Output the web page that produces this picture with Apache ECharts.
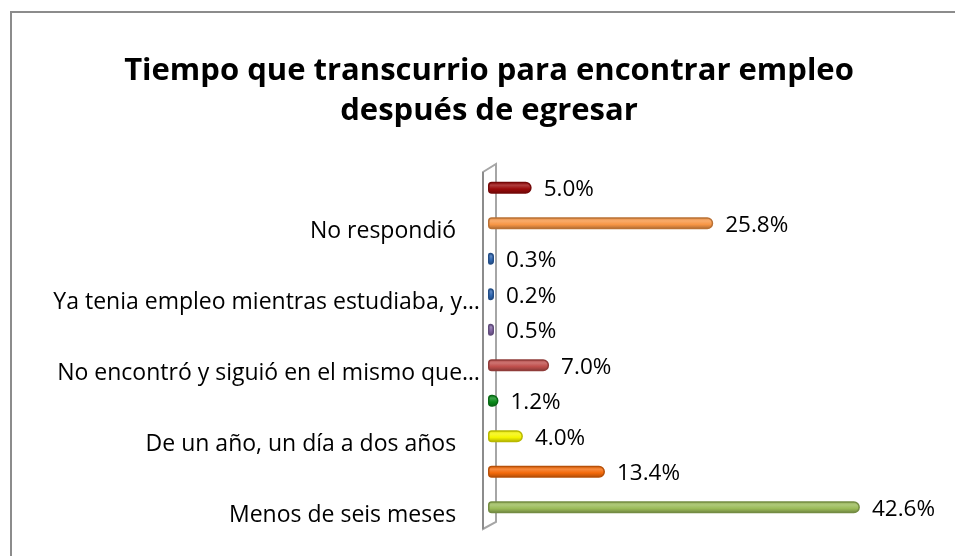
<!DOCTYPE html>
<html>
<head>
<meta charset="utf-8">
<script src="https://cdn.jsdelivr.net/npm/echarts@6/dist/echarts.min.js"></script>
<style>
  html, body { margin: 0; padding: 0; background: #fff; }
  #chart { width: 955px; height: 556px; }
</style>
</head>
<body>
<div id="chart"></div>
<script>
// categories, bottom to top (only every other one is labelled in the original)
var categories = [
  'Menos de seis meses    ',
  'De seis meses a un año    ',
  'De un año, un día a dos años    ',
  'Más de dos años    ',
  'No encontró y siguió en el mismo que…',
  'No encontró y sigue buscando    ',
  'Ya tenia empleo mientras estudiaba, y…',
  'Ya tenia empleo y cambió    ',
  'No respondió    ',
  'Otro    '
]
var values = [42.6, 13.4, 4.0, 1.2, 7.0, 0.5, 0.2, 0.3, 25.8, 5.0]
// base colour of each cylinder
var colors = ['#9bbb59', '#f46a0a', '#f5f500', '#0a8a1a', '#c0504d', '#8064a2', '#2f67b1', '#2f67b1', '#f79646', '#9a0a0a']

var gridLeft = 488, gridTop = 170, gridBottom = 31, axisMax = 45

function shade(hex, k) {
  var n = parseInt(hex.slice(1), 16)
  var r = (n >> 16) & 255, g = (n >> 8) & 255, b = n & 255
  function f(c) {
    c = k > 0 ? c + (255 - c) * k : c * (1 + k)
    return Math.round(c)
  }
  return 'rgb(' + f(r) + ',' + f(g) + ',' + f(b) + ')'
}

var chart = echarts.init(document.getElementById('chart'))

var option = {
  backgroundColor: '#fff',
  animation: false,
  title: {
    text: 'Tiempo que transcurrio para encontrar empleo\ndespués de egresar',
    left: 484,
    top: 46,
    textAlign: 'center',
    textStyle: {
      fontFamily: 'Open Sans',
      fontWeight: 'bold',
      fontSize: 31,
      lineHeight: 40,
      color: '#000'
    }
  },
  grid: {
    left: gridLeft,
    right: 955 - gridLeft - axisMax * 8.73,
    top: gridTop,
    bottom: gridBottom,
    containLabel: false
  },
  xAxis: {
    type: 'value',
    min: 0,
    max: axisMax,
    show: false
  },
  yAxis: {
    type: 'category',
    data: categories,
    axisLine: { show: false },
    axisTick: { show: false },
    axisLabel: {
      interval: 1,
      margin: 8,
      verticalAlign: 'top',
      lineHeight: 16,
      fontFamily: 'Open Sans',
      fontSize: 23,
      color: '#000'
    }
  },
  series: [{
    type: 'bar',
    barWidth: 12,
    barMinHeight: 6,
    z: 3,
    data: values.map(function (v, i) {
      var c = colors[i]
      return {
        value: v,
        itemStyle: {
          color: new echarts.graphic.LinearGradient(0, 0, 0, 1, [
            { offset: 0, color: shade(c, -0.1) },
            { offset: 0.3, color: shade(c, 0.2) },
            { offset: 0.6, color: c },
            { offset: 1, color: shade(c, -0.3) }
          ]),
          borderColor: shade(c, -0.25),
          borderWidth: 1.5,
          borderRadius: [3, 6, 6, 3]
        }
      }
    }),
    label: {
      show: true,
      position: 'right',
      distance: 12,
      offset: [0, 2],
      fontFamily: 'Open Sans',
      fontSize: 22.5,
      color: '#000',
      formatter: function (p) { return p.value.toFixed(1) + '%' }
    }
  }],
  graphic: []
}
chart.setOption(option)

// 3D wall behind the category axis and chart border
var x0 = chart.convertToPixel({ xAxisIndex: 0 }, 0)
var yTop = gridTop, yBot = 556 - gridBottom
chart.setOption({
  graphic: [{
    type: 'rect',
    shape: { x: 11, y: 12, width: 1000, height: 600 },
    style: { fill: 'none', stroke: '#8c8c8c', lineWidth: 2 },
    silent: true
  }, {
    type: 'polygon',
    z: 1,
    shape: { points: [[x0 - 5, yTop + 2], [x0 + 8, yTop - 6], [x0 + 8, yBot - 3], [x0 - 5, yBot + 4]] },
    style: { fill: '#fff', stroke: '#a6a6a6', lineWidth: 2 },
    silent: true
  }, {
    type: 'line',
    z: 1,
    shape: { x1: x0 - 5, y1: yTop + 2, x2: x0 - 5, y2: yBot + 4 },
    style: { stroke: '#8c8c8c', lineWidth: 2 },
    silent: true
  }]
})
</script>
</body>
</html>
